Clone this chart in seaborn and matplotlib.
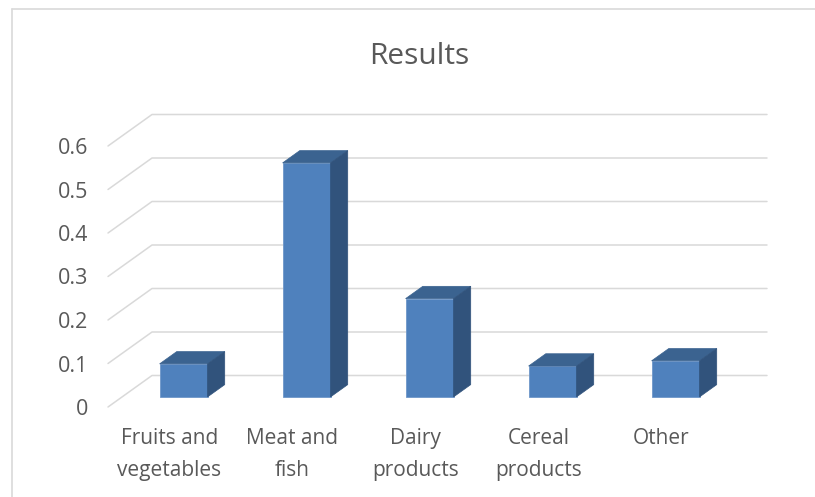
import matplotlib
matplotlib.use("Agg")
import matplotlib.pyplot as plt
import seaborn as sns
from matplotlib.patches import Polygon
from matplotlib.lines import Line2D

# Data
categories = ["Fruits and\nvegetables", "Meat and\nfish", "Dairy\nproducts", "Cereal\nproducts", "Other"]
values = [0.076, 0.538, 0.226, 0.071, 0.083]
yticks = [0, 0.1, 0.2, 0.3, 0.4, 0.5, 0.6]
ytick_labels = ["0", "0.1", "0.2", "0.3", "0.4", "0.5", "0.6"]
title = "Results"

sns.set_theme(style="white")
plt.rcParams["font.family"] = ["Open Sans", "DejaVu Sans"]

TEXT = "#595959"
GRID = "#d9d9d9"
FRONT = "#4f81bd"
TOP = "#3b6390"
SIDE = "#31537c"

W, H = 815, 497
fig = plt.figure(figsize=(W / 100, H / 100), dpi=100)
fig.patch.set_facecolor("white")

# Axes = front plane of the 3D floor/wall box (pixel layout)
left_px, right_px, top_px, bot_px = 108, 723, 146, 407
ax = fig.add_axes([left_px / W, 1 - bot_px / H,
                   (right_px - left_px) / W, (bot_px - top_px) / H])
ax.set_xlim(-0.5, len(categories) - 0.5)
ax.set_ylim(0, 0.6)
ax.patch.set_alpha(0)

# Oblique depth vector, expressed in data units
px_per_cat = (right_px - left_px) / len(categories)
px_per_val = (bot_px - top_px) / 0.6
DX = 44 / px_per_cat
DY = 31.5 / px_per_val

# Back-wall gridlines with their floor/side diagonals
for v in yticks:
    ax.add_line(Line2D([-0.5, -0.5 + DX, len(categories) - 0.5 + DX],
                       [v, v + DY, v + DY],
                       color=GRID, lw=1.1, clip_on=False, zorder=1))

# Front faces of the columns
bw = 0.39
sns.barplot(x=categories, y=values, color=FRONT, saturation=1, width=bw,
            ax=ax, zorder=3, edgecolor="#6f97c9", linewidth=0.6)

f0, f1 = 0.32, 0.71
depth = f1 - f0
for p in ax.patches:
    x0 = p.get_x() + f0 * DX
    y0 = f0 * DY
    h = p.get_height()
    p.set_x(x0)
    p.set_y(y0)
    p.set_clip_on(False)
    x1 = x0 + p.get_width()
    top = Polygon([(x0, y0 + h), (x1, y0 + h),
                   (x1 + depth * DX, y0 + h + depth * DY),
                   (x0 + depth * DX, y0 + h + depth * DY)],
                  closed=True, facecolor=TOP, edgecolor=TOP, lw=0.5,
                  zorder=3, clip_on=False)
    side = Polygon([(x1, y0), (x1, y0 + h),
                    (x1 + depth * DX, y0 + h + depth * DY),
                    (x1 + depth * DX, y0 + depth * DY)],
                   closed=True, facecolor=SIDE, edgecolor=SIDE, lw=0.5,
                   zorder=3, clip_on=False)
    ax.add_patch(top)
    ax.add_patch(side)

# Axis styling
for s in ax.spines.values():
    s.set_visible(False)
ax.set_xlabel("")
ax.set_ylabel("")
ax.set_yticks(yticks)
ax.set_yticklabels(ytick_labels)
ax.tick_params(axis="y", length=0, pad=14, labelsize=15.5, labelcolor=TEXT)
ax.tick_params(axis="x", length=0, pad=15, labelsize=15, labelcolor=TEXT)
for lab in ax.get_xticklabels():
    lab.set_linespacing(1.7)

# Title
fig.text(419.5 / W, 1 - 63.5 / H, title, ha="center", va="baseline",
         fontsize=21.5, color=TEXT)

# Chart area border (left and top edges)
fig.add_artist(Line2D([11.5 / W, 11.5 / W], [0, 1 - 8.5 / H],
                      transform=fig.transFigure, color="#d9d9d9", lw=1.2))
fig.add_artist(Line2D([11.5 / W, 1], [1 - 8.5 / H, 1 - 8.5 / H],
                      transform=fig.transFigure, color="#d9d9d9", lw=1.2))

fig.savefig("out.png", dpi=100)
